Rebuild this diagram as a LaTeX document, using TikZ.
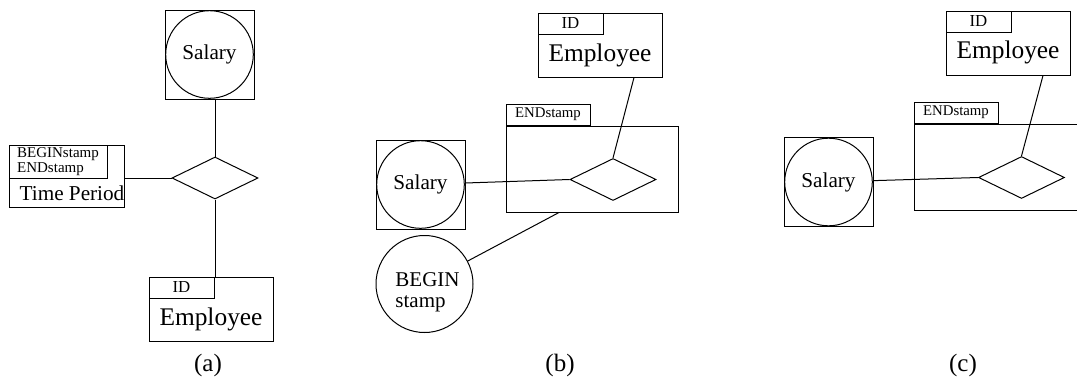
\documentclass[tikz,border=0pt]{standalone}
\usepackage{fontspec}
\setmainfont{Liberation Serif}
\usetikzlibrary{shapes.geometric}

\tikzset{
  fs/.style={font=\fontsize{#1}{#1}\selectfont},
  multival/.style={draw, rectangle, minimum size=44.5pt, inner sep=0pt, fs=10.6,
    path picture={\draw (path picture bounding box.center) circle[radius=21.9pt];}},
  rel/.style={draw, diamond, minimum width=43pt, minimum height=21pt, inner sep=0pt},
  entbox/.style={draw, minimum width=62pt, minimum height=32pt, inner sep=0pt},
  keybox/.style={draw, anchor=north west, minimum width=32.5pt, minimum height=10.5pt, inner sep=0pt, fs=8.4},
  timebox/.style={draw, minimum width=57.5pt, minimum height=31pt, inner sep=0pt},
  timelbl/.style={draw, anchor=north west, minimum width=49pt, minimum height=16.5pt, inner sep=0pt,
    align=left, font=\fontsize{7.5}{6}\selectfont},
  stampbox/.style={draw, minimum width=86pt, minimum height=43pt, inner sep=0pt},
  stamplbl/.style={draw, anchor=south west, minimum width=42pt, minimum height=10.5pt, inner sep=0pt, fs=7.4},
  stampcirc/.style={draw, circle, minimum size=48.5pt, inner sep=0pt},
  caption/.style={fs=12.5}
}

\begin{document}
\begin{tikzpicture}[x=0.5pt, y=-0.5pt, line width=0.5pt]
  \useasboundingbox (0,0) rectangle (1077,380);

  % (a)
  \node[multival] (salA) at (209.5,54.5) {Salary};
  \node[rel] (relA) at (215,178) {};
  \node[timebox] (tpA) at (66.5,176) {};
  \node[timelbl] (tpAlbl) at (tpA.north west) {BEGINstamp\\ENDstamp};
  \node[fs=10.6] (tpAname) at (72,193) {Time Period};
  \node[entbox] (empA) at (211,309) {};
  \node[keybox] (idA) at (empA.north west) {ID};
  \node[fs=12.7] (empAname) at ([yshift=-5pt]empA.center) {Employee};
  \node[caption] (capA) at (208,365) {(a)};

  \draw (salA.south -| relA.north) -- (relA.north);
  \draw (tpA.east |- relA.west) -- (relA.west);
  \draw (relA.south) -- (relA.south |- empA.north);

  % (b)
  \node[entbox] (empB) at (600,45) {};
  \node[keybox] (idB) at (empB.north west) {ID};
  \node[fs=12.7] (empBname) at ([yshift=-5pt]empB.center) {Employee};
  \node[stampbox] (prdB) at (592,169) {};
  \node[stamplbl] (endB) at (prdB.north west) {ENDstamp};
  \node[rel] (relB) at (613,179.5) {};
  \node[multival] (salB) at (420.5,184.5) {Salary};
  \node[stampcirc] (begB) at (424.5,284) {};
  \node[fs=10.5, align=left] (begBtxt) at (427.5,292) {BEGIN\\stamp};
  \node[caption] (capB) at (560,365) {(b)};

  \draw ([xshift=17pt]empB.south) -- (relB.north);
  \draw (salB) -- (relB.west);
  \draw (begB) -- ([xshift=-16.5pt]prdB.south);

  % (c)
  \node[entbox] (empC) at (1008,43) {};
  \node[keybox] (idC) at (empC.north west) {ID};
  \node[fs=12.7] (empCname) at ([yshift=-4.5pt]empC.center) {Employee};
  \node[stampbox] (prdC) at (1000,167) {};
  \node[stamplbl] (endC) at (prdC.north west) {ENDstamp};
  \node[rel] (relC) at (1021.5,177.5) {};
  \node[multival] (salC) at (828.5,182) {Salary};
  \node[caption] (capC) at (963,365) {(c)};

  \draw ([xshift=17.5pt]empC.south) -- (relC.north);
  \draw (salC) -- (relC.west);
\end{tikzpicture}
\end{document}
